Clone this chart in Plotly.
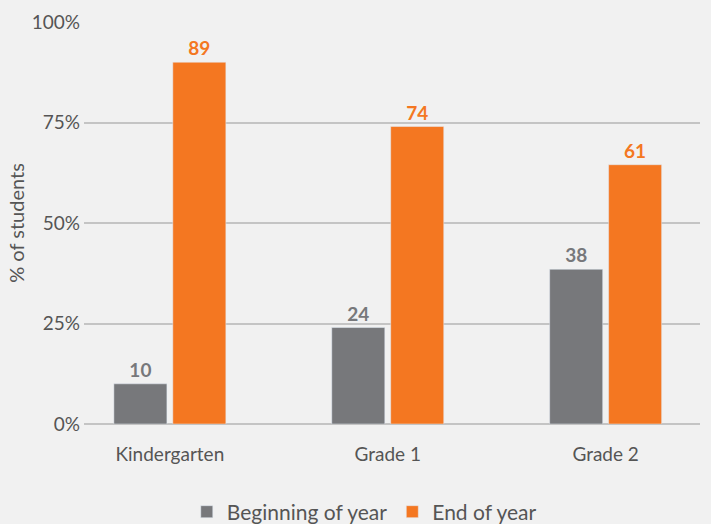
import plotly.graph_objects as go

categories = ["Kindergarten", "Grade 1", "Grade 2"]
begin_values = [10, 24, 38.5]
end_values = [90, 74, 64.5]
begin_labels = ["10", "24", "38"]
end_labels = ["89", "74", "61"]
y_ticks = [0, 25, 50, 75, 100]
y_tick_labels = ["0%", "25%", "50%", "75%", "100%"]

GRAY = "#77787b"
ORANGE = "#f47721"
TEXT = "#555555"
FONT = "Lato"

fig = go.Figure()
fig.add_trace(go.Bar(
    x=categories, y=begin_values, name="Beginning of year",
    marker_color=GRAY, text=begin_labels, textposition="outside",
    textfont=dict(color=GRAY, size=19, family=FONT, weight="bold"),
    cliponaxis=False,
))
fig.add_trace(go.Bar(
    x=categories, y=end_values, name="End of year",
    marker_color=ORANGE, text=end_labels, textposition="outside",
    textfont=dict(color=ORANGE, size=19, family=FONT, weight="bold"),
    cliponaxis=False,
))

fig.update_layout(
    width=711, height=524,
    paper_bgcolor="#f1f1f1", plot_bgcolor="#f1f1f1",
    margin=dict(l=84, r=11, t=22, b=100, autoexpand=False),
    barmode="group", bargap=0.459, bargroupgap=0.10,
    font=dict(family=FONT, color=TEXT, size=19),
    showlegend=True,
    legend=dict(orientation="h", x=0.455, xanchor="center", y=-0.219, yanchor="middle",
                font=dict(size=21, color=TEXT), traceorder="normal"),
    xaxis=dict(range=[-0.394, 2.433], showgrid=False, showline=False, ticks="",
               tickfont=dict(size=19, color=TEXT), ticklabelstandoff=17),
    yaxis=dict(range=[0, 100], tickvals=y_ticks, ticktext=y_tick_labels,
               showgrid=True, gridcolor="#c4c4c4", gridwidth=1.5, zeroline=True,
               zerolinecolor="#c4c4c4", zerolinewidth=1.5,
               tickfont=dict(size=19, color=TEXT), ticklabelstandoff=3,
               title=dict(text="% of students", font=dict(size=20, color=TEXT), standoff=1)),
)

fig.write_html("out.html", config={"displayModeBar": False},
               post_script="document.body.style.margin='0';document.body.style.overflow='hidden';")
